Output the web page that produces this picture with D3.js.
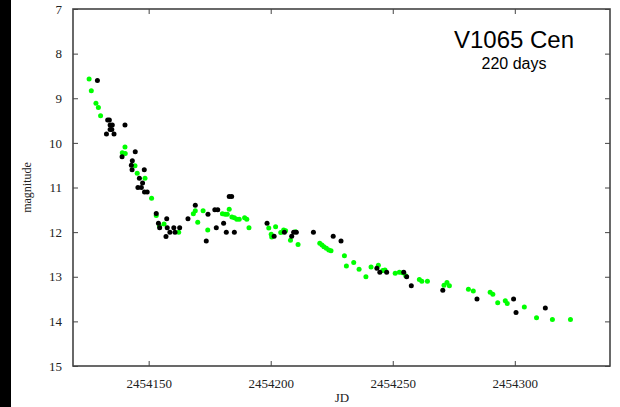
<!DOCTYPE html>
<html><head><meta charset="utf-8">
<script src="https://cdn.jsdelivr.net/npm/d3@7"></script>
<style>html,body{margin:0;padding:0;background:#fff;}svg{display:block;}</style>
</head><body>
<script>
// ---- data ----
const title = "V1065 Cen";
const subtitle = "220 days";
const xTicks = [2454150, 2454200, 2454250, 2454300];
const yTicks = [7, 8, 9, 10, 11, 12, 13, 14, 15];
// green series: [JD, magnitude]
const greenJD = [2454125.6,2454126.5,2454128.4,2454129.4,2454130.3,2454140.3,2454139.2,2454140.4,2454144.4,2454145.3,2454148.5,2454151.2,2454153.1,2454154.4,2454156.3,2454162.3,2454168.3,2454169.1,2454170.1,2454172.3,2454174.2,2454180.2,2454181.3,2454182.2,2454183.0,2454184.1,2454185.1,2454186.1,2454187.1,2454189.3,2454190.2,2454191.1,2454199.2,2454202.0,2454200.2,2454200.4,2454204.1,2454205.3,2454206.1,2454208.1,2454210.1,2454211.2,2454220.1,2454221.0,2454221.8,2454222.8,2454223.8,2454224.7,2454230.2,2454234.0,2454231.0,2454236.2,2454239.0,2454241.1,2454244.1,2454245.9,2454246.8,2454251.0,2454252.7,2454254.0,2454255.3,2454260.9,2454261.9,2454264.2,2454271.0,2454272.2,2454273.2,2454281.0,2454283.0,2454289.9,2454291.0,2454293.0,2454296.1,2454296.9,2454303.9,2454308.9,2454315.4,2454322.8];
const greenMag = [8.57,8.83,9.11,9.21,9.39,10.09,10.22,10.24,10.51,10.68,10.79,11.24,11.63,11.86,11.82,12.00,11.59,11.52,11.78,11.52,11.95,11.59,11.60,11.60,11.49,11.66,11.68,11.71,11.71,11.68,11.71,11.90,11.91,11.88,12.05,12.11,12.01,11.95,11.97,12.18,11.99,12.28,12.25,12.29,12.33,12.36,12.40,12.42,12.53,12.68,12.76,12.83,13.00,12.78,12.74,12.86,12.85,12.92,12.90,12.91,12.98,13.06,13.10,13.10,13.19,13.13,13.20,13.28,13.32,13.35,13.39,13.58,13.54,13.60,13.68,13.92,13.96,13.96];
// black series
const blackJD = [2454129.0,2454133.2,2454133.9,2454134.2,2454135.1,2454134.2,2454134.9,2454132.7,2454135.8,2454140.3,2454139.1,2454144.5,2454143.3,2454142.9,2454143.2,2454148.2,2454146.2,2454147.5,2454145.6,2454147.0,2454148.3,2454149.4,2454153.1,2454154.0,2454154.5,2454157.4,2454157.6,2454158.7,2454157.1,2454160.3,2454160.8,2454162.7,2454166.1,2454169.1,2454174.3,2454173.6,2454177.1,2454178.3,2454177.7,2454183.0,2454184.0,2454180.7,2454181.8,2454185.1,2454198.5,2454201.4,2454205.6,2454208.6,2454209.4,2454210.5,2454217.5,2454225.6,2454228.8,2454243.5,2454244.7,2454247.5,2454254.5,2454255.7,2454257.6,2454270.5,2454284.5,2454299.5,2454300.5,2454312.5];
const blackMag = [8.60,9.49,9.49,9.60,9.60,9.70,9.70,9.80,9.80,9.60,10.31,10.20,10.40,10.50,10.60,10.60,10.79,10.90,11.00,11.00,11.10,11.10,11.58,11.80,11.90,11.70,11.90,12.00,12.10,11.90,12.00,11.90,11.70,11.40,11.60,12.20,11.50,11.50,11.90,11.20,11.20,11.80,12.00,12.00,11.80,12.09,12.00,12.09,12.00,12.00,12.00,12.09,12.20,12.81,12.90,12.90,12.90,13.00,13.20,13.30,13.50,13.50,13.80,13.70];

// ---- layout ----
const W = 620, H = 407;
const m = {left: 73, top: 9, right: 10, bottom: 41};
const iw = W - m.left - m.right, ih = H - m.top - m.bottom;

const svg = d3.select("body").append("svg").attr("width", W).attr("height", H);
svg.append("rect").attr("x",0).attr("y",0).attr("width",W).attr("height",H).attr("fill","#fff");
svg.append("rect").attr("x",0).attr("y",0).attr("width",11).attr("height",H).attr("fill","#000");

const x = d3.scaleLinear().domain([2454119, 2454339]).range([0, iw]);
const y = d3.scaleLinear().domain([7, 15]).range([0, ih]);

const g = svg.append("g").attr("transform", `translate(${m.left},${m.top})`);
const serif = "'Liberation Serif','Times New Roman',serif";

function styleAxis(sel){
  sel.select(".domain").remove();
  sel.selectAll(".tick line").attr("stroke","#444").attr("stroke-width",1);
  sel.selectAll(".tick text").attr("font-family",serif).attr("font-size","13px").attr("fill","#222");
}
// bottom
g.append("g").attr("transform",`translate(0,${ih})`)
  .call(d3.axisBottom(x).tickValues(xTicks).tickFormat(d3.format("d")).tickSizeInner(-5).tickSizeOuter(0).tickPadding(13))
  .call(styleAxis);
// top
g.append("g").call(d3.axisTop(x).tickValues(xTicks).tickFormat("").tickSizeInner(-5).tickSizeOuter(0)).call(styleAxis);
// left
g.append("g")
  .call(d3.axisLeft(y).tickValues(yTicks).tickFormat(d3.format("d")).tickSizeInner(-5).tickSizeOuter(0).tickPadding(11))
  .call(styleAxis);
// right
g.append("g").attr("transform",`translate(${iw},0)`)
  .call(d3.axisRight(y).tickValues(yTicks).tickFormat("").tickSizeInner(-5).tickSizeOuter(0)).call(styleAxis);

// frame
g.append("rect").attr("x",0).attr("y",0).attr("width",iw).attr("height",ih)
  .attr("fill","none").attr("stroke","#444").attr("stroke-width",1.6);

// points
const green = greenJD.map((d,i)=>[d, greenMag[i]]);
const black = blackJD.map((d,i)=>[d, blackMag[i]]);
g.append("g").selectAll("circle").data(green).join("circle")
  .attr("cx",d=>x(d[0])).attr("cy",d=>y(d[1])).attr("r",2.5).attr("fill","#00ff00");
g.append("g").selectAll("circle").data(black).join("circle")
  .attr("cx",d=>x(d[0])).attr("cy",d=>y(d[1])).attr("r",2.5).attr("fill","#000");

// labels
svg.append("text").attr("x",342).attr("y",402).attr("text-anchor","middle")
  .attr("font-family",serif).attr("font-size","13px").attr("fill","#222").text("JD");
svg.append("text").attr("transform","translate(31,187.5) rotate(-90)").attr("text-anchor","middle")
  .attr("font-family",serif).attr("font-size","12px").attr("fill","#222").text("magnitude");
svg.append("text").attr("x",514).attr("y",48).attr("text-anchor","middle")
  .attr("font-family","'Liberation Sans',Arial,sans-serif").attr("font-size","24px").attr("fill","#000").text(title);
svg.append("text").attr("x",514).attr("y",69).attr("text-anchor","middle")
  .attr("font-family","'Liberation Sans',Arial,sans-serif").attr("font-size","16px").attr("fill","#000").text(subtitle);
</script>
</body></html>
